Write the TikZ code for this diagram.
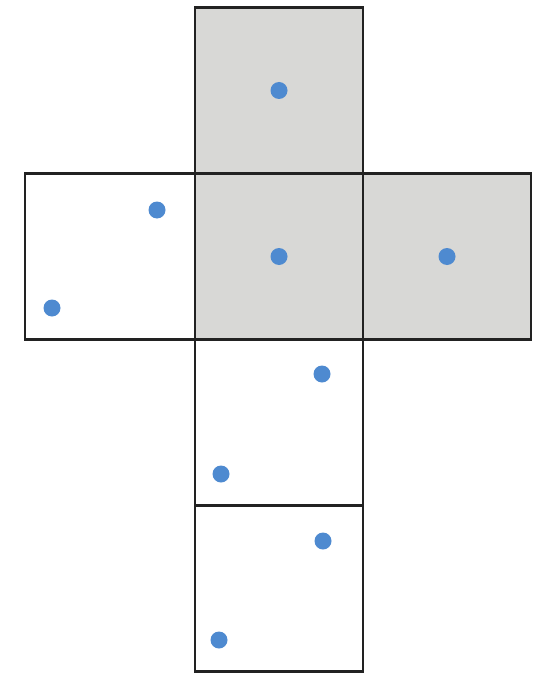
\documentclass[tikz,border=0pt]{standalone}
\usetikzlibrary{positioning}
\definecolor{facegray}{RGB}{216, 216, 214}
\definecolor{dotblue}{RGB}{78, 138, 208}
\definecolor{edgeink}{RGB}{34, 34, 34}
\begin{document}
\begin{tikzpicture}[
    x=0.5mm, y=-0.5mm,
    face/.style={draw=edgeink, line width=3.2pt, minimum width=84mm, minimum height=83mm, inner sep=0pt, outer sep=0pt},
    shaded/.style={face, fill=facegray},
    pip/.style={circle, fill=dotblue, minimum size=8.5mm, inner sep=0pt},
    node distance=0pt,
  ]
    \useasboundingbox (0,0) rectangle (544,675);

    % faces of the net
    \node[shaded] (mid) at (279, 256.5) {};
    \node[shaded, above=of mid] (top) {};
    \node[shaded, right=of mid] (rgt) {};
    \node[face, left=of mid, minimum width=85mm] (lft) {};
    \node[face, below=of mid] (lowa) {};
    \node[face, below=of lowa] (lowb) {};

    % dots
    \node[pip] (ptop) at (top.center) {};
    \node[pip] (pmid) at (mid.center) {};
    \node[pip] (prgt) at (rgt.center) {};
    \node[pip] (plfta) at (157, 210) {};
    \node[pip] (plftb) at (52, 308) {};
    \node[pip] (plowa) at (322, 374) {};
    \node[pip] (plowb) at (221, 474) {};
    \node[pip] (plowc) at (323, 541) {};
    \node[pip] (plowd) at (219, 640) {};

  \end{tikzpicture}
\end{document}
